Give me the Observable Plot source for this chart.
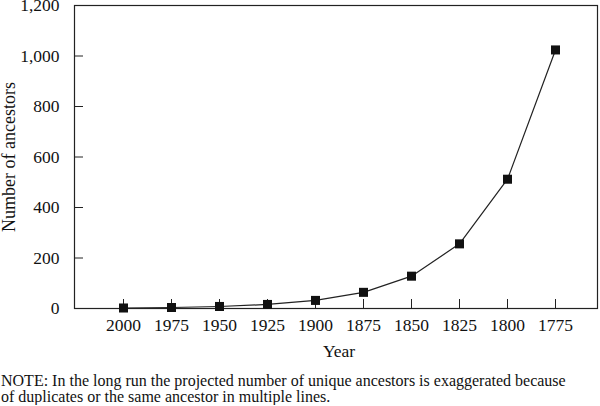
<!DOCTYPE html>
<html>
<head>
<meta charset="utf-8">
<script src="https://cdn.jsdelivr.net/npm/d3@7"></script>
<script src="https://cdn.jsdelivr.net/npm/@observablehq/plot@0.6"></script>
<style>
  html, body { margin: 0; padding: 0; background: #fff; }
  #chart svg { display: block; }
  #note { font-family: "Liberation Serif", serif; font-size: 16px; line-height: 16px; color: #111; padding-left: 1px; margin-top: 7px; white-space: nowrap; }
</style>
</head>
<body>
<div id="chart"></div>
<div id="note">NOTE: In the long run the projected number of unique ancestors is exaggerated because<br>of duplicates or the same ancestor in multiple lines.</div>
<script>
const years = ["2000", "1975", "1950", "1925", "1900", "1875", "1850", "1825", "1800", "1775"];
const ancestors = [2, 4, 8, 16, 32, 64, 128, 256, 512, 1024];
const yTicks = [0, 200, 400, 600, 800, 1000, 1200];

const data = years.map((year, i) => ({year, n: ancestors[i]}));

const chart = Plot.plot({
  width: 600,
  height: 366,
  marginLeft: 74,
  marginRight: 3,
  marginTop: 5,
  marginBottom: 58,
  style: {fontFamily: "Liberation Serif, serif", fontSize: "17.5px", color: "#111", background: "#fff"},
  x: {type: "point", domain: years, range: [122, 555], padding: 0},
  y: {domain: [0, 1200]},
  marks: [
    Plot.frame({stroke: "#222", strokeWidth: 1.2}),
    Plot.axisY({ticks: yTicks, tickSize: -9, tickPadding: 24, tickFormat: d3.format(","), label: null, stroke: "#222"}),
    Plot.axisX({tickSize: -9, tickPadding: 19, label: null, stroke: "#222"}),
    Plot.text(["Year"], {frameAnchor: "bottom", dy: 48, dx: 3, fontSize: 17.5}),
    Plot.text(["Number of ancestors"], {frameAnchor: "left", textAnchor: "middle", rotate: -90, dx: -65, fontSize: 18}),
    Plot.line(data, {x: "year", y: "n", stroke: "#222", strokeWidth: 1.2}),
    Plot.dot(data, {x: "year", y: "n", symbol: "square", r: 5.1, fill: "#111", stroke: "none"})
  ]
});
document.getElementById("chart").appendChild(chart);
</script>
</body>
</html>
